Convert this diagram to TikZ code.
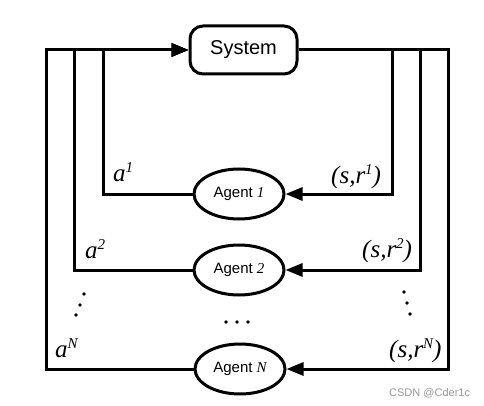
\documentclass[tikz,border=0pt]{standalone}
\usepackage{fontspec}
\setmainfont{Liberation Serif}
\setsansfont{Liberation Sans}
\usetikzlibrary{arrows.meta,shapes.geometric}
\newcommand\supx[1]{\raisebox{0.36em}{\fontsize{15}{15}\selectfont #1}}
\begin{document}
\begin{tikzpicture}[x=1pt,y=-1pt,
 wire/.style={line width=3pt},
 arr/.style={wire,-{Triangle[length=17pt,width=13pt]}},
 agent/.style={ellipse,draw,line width=3pt,minimum width=90pt,minimum height=50pt,inner sep=0pt,font=\sffamily\fontsize{15}{18}\selectfont},
 sysbox/.style={rounded corners=13pt,draw,line width=3pt,minimum width=107pt,minimum height=48pt,font=\sffamily\fontsize{20}{24}\selectfont},
 lab/.style={font=\itshape\fontsize{25}{30}\selectfont,inner sep=0pt,anchor=base west},
 dot/.style={circle,fill,inner sep=0pt,minimum size=3.8pt},
 wm/.style={font=\sffamily\fontsize{11}{13}\selectfont,text=gray!80,anchor=base west,inner sep=0pt}]
\useasboundingbox (0,0) rectangle (484,406);

\node[sysbox] (S) at (243.5,50) {System};
\node[agent] (A1) at (239,194) {Agent {\rmfamily\itshape 1}};
\node[agent] (A2) at (239,270) {Agent {\rmfamily\itshape 2}};
\node[agent] (AN) at (240,369) {Agent {\rmfamily\itshape N}};

\coordinate (L1) at (103,50);
\coordinate (L2) at (74,50);
\coordinate (LN) at (46,50);
\coordinate (R1) at (392,50);
\coordinate (R2) at (420,50);
\coordinate (RN) at (448,50);

\draw[arr] (A1.west) -| (L1) -- (S.west);
\draw[arr] (A2.west) -| (L2) -- (S.west);
\draw[arr] (AN.west) -| (LN) -- (S.west);

\draw[arr] (S.east) -- (R1) |- (A1.east);
\draw[arr] (S.east) -- (R2) |- (A2.east);
\draw[arr] (S.east) -- (RN) |- (AN.east);

\node[lab] (la1) at (113,182) {a\supx{1}};
\node[lab] (lsr1) at (331,183) {(s,r\supx{1})};
\node[lab] (la2) at (85,258) {a\supx{2}};
\node[lab] (lsr2) at (362,257) {(s,r\supx{2})};
\node[lab] (laN) at (55,357) {a\supx{N}};
\node[lab] (lsrN) at (389,357) {(s,r\supx{N})};

\node[dot] (dl1) at (84,294) {};
\node[dot] (dl2) at (80,305) {};
\node[dot] (dl3) at (76,315) {};
\node[dot] (dr1) at (404,292) {};
\node[dot] (dr2) at (407,303) {};
\node[dot] (dr3) at (410,314) {};
\node[dot] (dm1) at (226,322) {};
\node[dot] (dm2) at (237,322) {};
\node[dot] (dm3) at (248,322) {};

\node[wm] (wmark) at (389,396) {CSDN @Cder1c};
\end{tikzpicture}
\end{document}
